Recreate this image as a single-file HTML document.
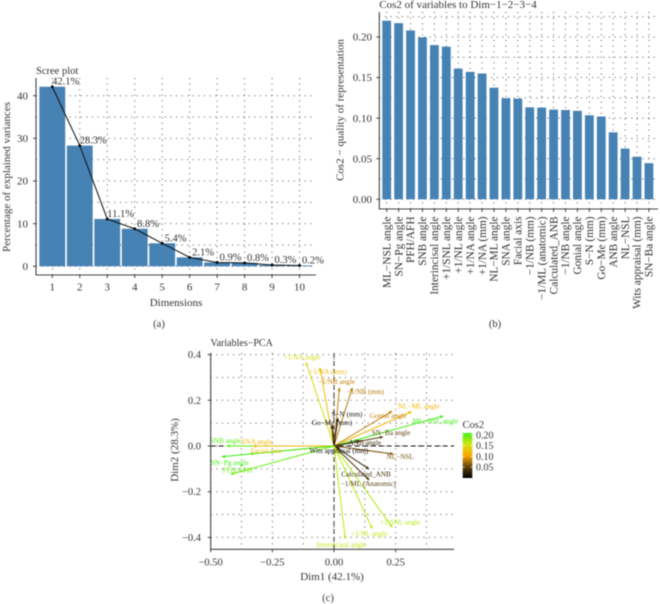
<!DOCTYPE html>
<html lang="en">
<head>
<meta charset="utf-8">
<title>PCA figure</title>
<style>
html,body{margin:0;padding:0;background:#fff;width:660px;height:604px;overflow:hidden}
svg{display:block;filter:blur(0.42px)}
text{font-family:"Liberation Serif",serif;fill:#333}
</style>
</head>
<body>
<svg id="fig" width="660" height="604" viewBox="0 0 660 604" xmlns="http://www.w3.org/2000/svg"></svg>
<script>
/* Scree plot data */
const screeDims = [1, 2, 3, 4, 5, 6, 7, 8, 9, 10];
const screeValues = [42.1, 28.3, 11.1, 8.8, 5.4, 2.1, 0.9, 0.8, 0.3, 0.2];
const screeTicks = [0, 10, 20, 30, 40];

/* Cos2 bar data */
const cosNames = ["ML\u2212NSL angle", "SN\u2212Pg angle", "PFH/AFH", "SNB angle", "Interincisal angle", "+1/SNL angle", "+1/NL angle", "+1/NA angle", "+1/NA (mm)", "NL\u2212ML angle", "SNA angle", "Facial axis", "\u22121/NB (mm)", "\u22121/ML (anatomic)", "Calculated_ANB", "\u22121/NB angle", "Gonial angle", "S\u2212N (mm)", "Go\u2212Me (mm)", "ANB angle", "NL\u2212NSL", "Wits appraisal (mm)", "SN\u2212Ba angle"];
const cosValues = [0.220, 0.217, 0.208, 0.1995, 0.190, 0.188, 0.161, 0.157, 0.155, 0.1375, 0.1245, 0.124, 0.1133, 0.113, 0.1105, 0.110, 0.109, 0.1035, 0.102, 0.0825, 0.0625, 0.0525, 0.0445];
const cosTicks = [0, 0.05, 0.10, 0.15, 0.20];

/* Variables PCA data */
const varNames = ["+1/NA angle", "+1/NA (mm)", "\u22121/NB angle", "\u22121/NB (mm)", "S\u2212N (mm)", "Go\u2212Me (mm)", "NL\u2212ML angle", "Gonial angle", "ML\u2212NSL angle", "SN\u2212Ba angle", "ANB angle", "NL\u2212NSL", "Wits appraisal (mm)", "Calculated_ANB", "\u22121/ML (Anatomic)", "+1/SNL angle", "+1/NL angle", "Interincisal angle", "SNB angle", "SNA angle", "Facial axis", "SN\u2212Pg angle", "PFH/AFH"];
const varDim1 = [-0.1135, -0.057, 0.022, 0.074, 0.016, -0.008, 0.315, 0.236, 0.443, 0.199, 0.105, 0.24, 0.024, 0.142, 0.143, 0.236, 0.155, 0.046, -0.436, -0.328, -0.34, -0.455, -0.42];
const varDim2 = [0.366, 0.343, 0.255, 0.255, 0.122, 0.092, 0.151, 0.153, 0.131, 0.04, 0.022, -0.035, -0.013, -0.101, -0.149, -0.356, -0.362, -0.407, 0, 0, -0.035, -0.047, -0.124];
const varCos2 = [0.15, 0.125, 0.085, 0.08, 0.015, 0.01, 0.12, 0.085, 0.21, 0.05, 0.03, 0.06, 0.005, 0.035, 0.045, 0.17, 0.165, 0.165, 0.2, 0.12, 0.125, 0.21, 0.195];
const pcaXTicks = [-0.5, -0.25, 0, 0.25];
const pcaYTicks = [-0.4, -0.2, 0, 0.2, 0.4];
const legendTicks = [0.05, 0.10, 0.15, 0.20];

/* Repelled label layout, kept apart from the data */
const labelShiftX = [-4, 8, -3, 13, 9, 0, 7, -4, -8, 8, 5, 7, -1, -3, -1, 8, -3, -4, -1, 4, 16, 8, 7];
const labelShiftY = [-5, 4, -6, 4, -4, -2, -5, 5, 5, -4, 2, 3, 2, 5, 4, -5, 5, 6, -5, -4, -3, 6, -4];

const NS = "http://www.w3.org/2000/svg";
const root = document.getElementById("fig");
const AXIS = "#444";
const DOTS = "#555";
const BLUE = "#4682b4";
const fmt = v => (v < 0 ? "\u2212" : "") + Math.abs(v).toFixed(2);

function mk(parent, tag, attrs, txt) {
  const e = document.createElementNS(NS, tag);
  for (const k in attrs) e.setAttribute(k, attrs[k]);
  if (txt !== undefined) e.textContent = txt;
  parent.appendChild(e);
  return e;
}
function group(parent, name) {
  const g = document.createElementNS(NS, "g");
  
  
  parent.appendChild(g);
  return g;
}
function named(e, name) {
  
  
  return e;
}
function dotted(g, x1, y1, x2, y2) {
  mk(g, "line", {x1, y1, x2, y2, stroke: DOTS, "stroke-width": 1, "stroke-dasharray": "1 4.6"});
}
function frame(g, left, top, right, bottom) {
  mk(g, "path", {d: `M${left} ${top}V${bottom}H${right}`, fill: "none", stroke: AXIS, "stroke-width": 1.1});
}

/* ---------- (a) scree plot ---------- */
const scree = group(root, "scree-plot");
const sx = d => 52.3 + (d - 1) * 27.47;
const sy = v => 266.3 - v * 4.265;
const screeGrid = group(scree, "scree-grid");
for (let v = 0; v <= 40; v += 5) dotted(screeGrid, 36, sy(v), 316, sy(v));
screeDims.forEach(d => dotted(screeGrid, sx(d), 78, sx(d), 275));
const screeBars = group(scree, "scree-bars");
screeValues.forEach((v, i) => {
  const r = mk(screeBars, "rect", {x: sx(screeDims[i]) - 12.9, y: sy(v), width: 25.8, height: sy(0) - sy(v), fill: BLUE});
  
  
});
mk(scree, "polyline", {points: screeValues.map((v, i) => sx(screeDims[i]) + "," + sy(v)).join(" "), fill: "none", stroke: "#111", "stroke-width": 1});
screeValues.forEach((v, i) => {
  mk(scree, "circle", {cx: sx(screeDims[i]), cy: sy(v), r: 1.4, fill: "#000"});
  const t = mk(scree, "text", {x: sx(screeDims[i]) + 13.4, y: sy(v) - 2, "font-size": 10.5, "text-anchor": "middle"}, v.toFixed(1) + "%");
  
  
});
frame(scree, 36, 78, 316, 275);
screeTicks.forEach(v => {
  mk(scree, "line", {x1: 33, y1: sy(v), x2: 36, y2: sy(v), stroke: AXIS});
  const t = mk(scree, "text", {x: 28, y: sy(v) + 3.7, "font-size": 11, "text-anchor": "end"}, v);
  
  
});
screeDims.forEach(d => {
  mk(scree, "line", {x1: sx(d), y1: 275, x2: sx(d), y2: 278, stroke: AXIS});
  const t = mk(scree, "text", {x: sx(d), y: 290.5, "font-size": 11, "text-anchor": "middle"}, d);
  
  
});
named(mk(scree, "text", {x: 36, y: 74, "font-size": 10.5}, "Scree plot"), "scree-title");
named(mk(scree, "text", {x: 176, y: 306, "font-size": 11, "text-anchor": "middle"}, "Dimensions"), "scree-x-title");
named(mk(scree, "text", {transform: "translate(10 177) rotate(-90)", "font-size": 11, "text-anchor": "middle"}, "Percentage of explained variances"), "scree-y-title");
named(mk(scree, "text", {x: 159, y: 327, "font-size": 10.5, "text-anchor": "middle"}, "(a)"), "panel-a-caption");

/* ---------- (b) cos2 bars ---------- */
const cosP = group(root, "cos2-plot");
const cx = i => 386.7 + i * 11.92;
const cy = v => 199.3 - v * 811.7;
const cosGrid = group(cosP, "cos2-grid");
for (let v = 0; v <= 0.226; v += 0.025) dotted(cosGrid, 379.3, cy(v), 658, cy(v));
cosNames.forEach((n, i) => dotted(cosGrid, cx(i), 12, cx(i), 209));
const cosBars = group(cosP, "cos2-bars");
cosValues.forEach((v, i) => {
  const r = mk(cosBars, "rect", {x: cx(i) - 4.4, y: cy(v), width: 8.8, height: cy(0) - cy(v), fill: BLUE});
  
  
});
frame(cosP, 379.3, 12, 658, 209);
cosTicks.forEach(v => {
  mk(cosP, "line", {x1: 376.3, y1: cy(v), x2: 379.3, y2: cy(v), stroke: AXIS});
  const t = mk(cosP, "text", {x: 372, y: cy(v) + 3.7, "font-size": 11, "text-anchor": "end"}, v.toFixed(2));
  
  
});
cosNames.forEach((n, i) => {
  mk(cosP, "line", {x1: cx(i), y1: 209, x2: cx(i), y2: 212, stroke: AXIS});
  const t = mk(cosP, "text", {transform: `translate(${cx(i) + 3.7} 216.5) rotate(-90)`, "font-size": 11.3, "text-anchor": "end"}, n);
  
  
});
named(mk(cosP, "text", {x: 379.3, y: 8, "font-size": 11}, "Cos2 of variables to Dim\u22121\u22122\u22123\u22124"), "cos2-title");
named(mk(cosP, "text", {transform: "translate(343.5 110) rotate(-90)", "font-size": 11, "text-anchor": "middle"}, "Cos2 \u2212 quality of representation"), "cos2-y-title");
named(mk(cosP, "text", {x: 495, y: 327, "font-size": 10.5, "text-anchor": "middle"}, "(b)"), "panel-b-caption");

/* ---------- (c) variables PCA ---------- */
const pca = group(root, "variables-pca-plot");
const px = v => 334 + v * 246.7;
const py = v => 446 - v * 228.5;
const stops = [[0, [0, 0, 0]], [0.05, [90, 63, 16]], [0.105, [255, 165, 0]], [0.16, [205, 232, 24]], [0.21, [60, 240, 16]]];
function cosColor(c) {
  for (let i = 1; i < stops.length; i++) {
    if (c <= stops[i][0]) {
      const a = stops[i - 1], b = stops[i], t = (c - a[0]) / (b[0] - a[0]);
      return "rgb(" + a[1].map((q, k) => Math.round(q + (b[1][k] - q) * t)).join(",") + ")";
    }
  }
  return "rgb(60,240,16)";
}
const pcaGrid = group(pca, "pca-grid");
for (let k = -4; k <= 4; k++) dotted(pcaGrid, 210.7, py(k / 10), 454, py(k / 10));
for (let k = -4; k <= 3; k++) dotted(pcaGrid, px(k / 8), 353, px(k / 8), 549.3);
mk(pca, "line", {x1: px(0), y1: 353, x2: px(0), y2: 549.3, stroke: "#555", "stroke-width": 1.2, "stroke-dasharray": "5 3"});
mk(pca, "line", {x1: 210.7, y1: py(0), x2: 454, y2: py(0), stroke: "#111", "stroke-width": 1.1, "stroke-dasharray": "5 3"});
const arrows = group(pca, "pca-arrows");
varNames.forEach((n, i) => {
  const col = cosColor(varCos2[i]);
  const x = px(varDim1[i]), y = py(varDim2[i]);
  const a = Math.atan2(y - py(0), x - px(0));
  const h = 3.2, w = 1.7;
  const bx = x - h * Math.cos(a), by = y - h * Math.sin(a);
  const arrow = mk(arrows, "g", {});
  
  
  mk(arrow, "line", {x1: px(0), y1: py(0), x2: x, y2: y, stroke: col, "stroke-width": 1});
  mk(arrow, "polygon", {points: `${x},${y} ${bx - w * Math.sin(a)},${by + w * Math.cos(a)} ${bx + w * Math.sin(a)},${by - w * Math.cos(a)}`, fill: col});
});
const varLabels = group(pca, "pca-labels");
varNames.forEach((n, i) => {
  const t = mk(varLabels, "text", {x: px(varDim1[i]) + labelShiftX[i], y: py(varDim2[i]) + labelShiftY[i] + 2.2, "font-size": 7.2, "text-anchor": "middle", style: "fill:" + cosColor(varCos2[i])}, n);
  
  
});
frame(pca, 210.7, 353, 454, 549.3);
pcaYTicks.forEach(v => {
  mk(pca, "line", {x1: 207.7, y1: py(v), x2: 210.7, y2: py(v), stroke: AXIS});
  const t = mk(pca, "text", {x: 201, y: py(v) + 3.5, "font-size": 10.5, "text-anchor": "end"}, v === 0 ? "0.0" : (v < 0 ? "\u2212" : "") + Math.abs(v).toFixed(1));
  
  
});
pcaXTicks.forEach(v => {
  mk(pca, "line", {x1: px(v), y1: 549.3, x2: px(v), y2: 552.3, stroke: AXIS});
  const t = mk(pca, "text", {x: px(v), y: 565.5, "font-size": 10.5, "text-anchor": "middle"}, fmt(v));
  
  
});
named(mk(pca, "text", {x: 210.5, y: 346, "font-size": 10}, "Variables\u2212PCA"), "pca-title");
named(mk(pca, "text", {x: 332, y: 580, "font-size": 11, "text-anchor": "middle"}, "Dim1 (42.1%)"), "pca-x-title");
named(mk(pca, "text", {transform: "translate(178 450) rotate(-90)", "font-size": 11, "text-anchor": "middle"}, "Dim2 (28.3%)"), "pca-y-title");
named(mk(pca, "text", {x: 328, y: 601, "font-size": 10.5, "text-anchor": "middle"}, "(c)"), "panel-c-caption");

/* legend */
const leg = group(pca, "cos2-legend");
const defs = mk(root, "defs", {});
const grad = mk(defs, "linearGradient", {id: "cosGrad", x1: 0, y1: 1, x2: 0, y2: 0});
stops.forEach(s => mk(grad, "stop", {offset: s[0] / 0.21, "stop-color": "rgb(" + s[1].join(",") + ")"}));
const ly = v => 478 - v * 215;
named(mk(leg, "rect", {x: 462.7, y: 433, width: 9.6, height: 45, fill: "url(#cosGrad)"}), "legend-colorbar");
named(mk(leg, "text", {x: 462.5, y: 428, "font-size": 10.5}, "Cos2"), "legend-title");
legendTicks.forEach(v => {
  mk(leg, "line", {x1: 462.7, y1: ly(v), x2: 464.6, y2: ly(v), stroke: "#fff", "stroke-width": 0.6});
  mk(leg, "line", {x1: 470.4, y1: ly(v), x2: 472.3, y2: ly(v), stroke: "#fff", "stroke-width": 0.6});
  const t = mk(leg, "text", {x: 476, y: ly(v) + 3.3, "font-size": 10}, v.toFixed(2));
  
  
});
</script>
</body>
</html>
